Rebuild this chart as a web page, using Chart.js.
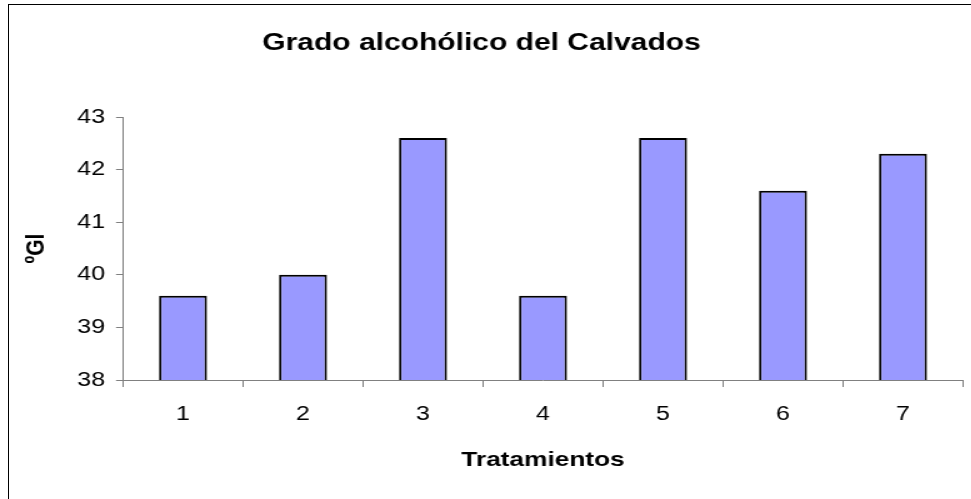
<!DOCTYPE html>
<html>
<head>
<meta charset="utf-8">
<script src="https://cdn.jsdelivr.net/npm/chart.js@4"></script>
<style>
  html, body { margin: 0; padding: 0; background: #fff; }
  body { width: 971px; height: 499px; overflow: hidden; position: relative; }
  /* chart area is drawn narrow and stretched sideways like the original picture */
  #wrap { position: absolute; left: 0; top: 0; width: 777px; height: 499px;
          transform: scaleX(1.25); transform-origin: 0 0; }
  #frame { position: absolute; left: 8px; top: 4px; right: 0; bottom: 0;
           border-left: 1px solid #000; border-top: 1px solid #000; }
</style>
</head>
<body>
<div id="frame"></div>
<div id="wrap"><canvas id="chart-1"></canvas></div>
<script>
// data
const tratamientos = ["1", "2", "3", "4", "5", "6", "7"];
const gradoAlcoholico = [39.6, 40.0, 42.6, 39.6, 42.6, 41.6, 42.3];
const yMin = 38;
const yMax = 43;

const axisGray = "#808080";
const fontFamily = "'Liberation Sans', Arial, sans-serif";

const ctx1 = document.getElementById("chart-1").getContext("2d");
const myChart = new Chart(ctx1, {
  type: "bar",
  data: {
    labels: tratamientos,
    datasets: [
      {
        label: "ºGl",
        data: gradoAlcoholico,
        backgroundColor: "#9999FF",
        borderColor: "#000000",
        borderWidth: 2,
        borderSkipped: false,
        barPercentage: 0.4,
        categoryPercentage: 1.0,
      },
    ],
  },
  options: {
    responsive: true,
    maintainAspectRatio: false,
    animation: false,
    layout: { padding: { left: 0, right: 6.6, top: 0, bottom: 0 } },
    plugins: {
      legend: { display: false },
      tooltip: { enabled: false },
      title: {
        display: true,
        text: "Grado alcohólico del Calvados",
        color: "#000",
        font: { family: fontFamily, size: 24, weight: "bold" },
        padding: { top: 28.6, bottom: 59.6 },
      },
    },
    scales: {
      x: {
        offset: true,
        grid: {
          offset: true,
          drawOnChartArea: false,
          drawTicks: true,
          tickLength: 7,
          color: axisGray,
        },
        border: { color: axisGray, width: 1 },
        ticks: {
          color: "#000",
          padding: 15,
          font: { family: fontFamily, size: 20 },
        },
        title: {
          display: true,
          text: "Tratamientos",
          color: "#000",
          font: { family: fontFamily, size: 21, weight: "bold" },
          padding: { top: 22, bottom: 26.4 },
        },
        afterFit: function (scale) {
          scale.height = 119;
        },
      },
      y: {
        min: yMin,
        max: yMax,
        grid: {
          drawOnChartArea: false,
          drawTicks: true,
          tickLength: 5.6,
          color: axisGray,
        },
        border: { color: axisGray, width: 1 },
        ticks: {
          stepSize: 1,
          color: "#000",
          padding: 8.8,
          font: { family: fontFamily, size: 20 },
        },
        title: {
          display: true,
          text: "ºGl",
          color: "#000",
          font: { family: fontFamily, size: 21, weight: "bold" },
          padding: { top: 17, bottom: 20 },
        },
        afterFit: function (scale) {
          scale.width = 98.4;
        },
      },
    },
  },
});
</script>
</body>
</html>
